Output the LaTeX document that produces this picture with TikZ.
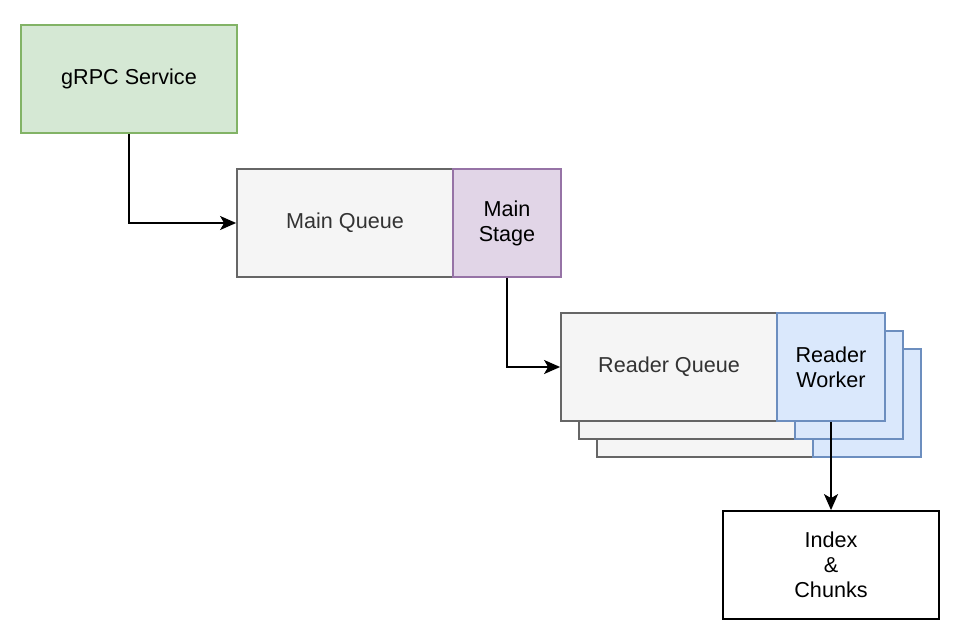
\documentclass[tikz,border=0pt]{standalone}
\usepackage{fontspec}
\setmainfont{Liberation Sans}
\usetikzlibrary{arrows.meta}
\definecolor{greenfill}{HTML}{D5E8D4}
\definecolor{greenline}{HTML}{82B366}
\definecolor{grayfill}{HTML}{F5F5F5}
\definecolor{grayline}{HTML}{666666}
\definecolor{graytext}{HTML}{333333}
\definecolor{purplefill}{HTML}{E1D5E7}
\definecolor{purpleline}{HTML}{9673A6}
\definecolor{bluefill}{HTML}{DAE8FC}
\definecolor{blueline}{HTML}{6C8EBF}
\tikzset{
  block/.style={draw, line width=0.9pt, inner sep=0pt, align=center,
    font=\fontsize{10.8}{12.5}\selectfont},
  wide/.style={block, minimum width=108pt, minimum height=54pt},
  narrow/.style={block, minimum width=54pt, minimum height=54pt},
  queuebox/.style={wide, fill=grayfill, draw=grayline, text=graytext},
  workerbox/.style={narrow, fill=bluefill, draw=blueline},
  flow/.style={line width=0.9pt, -{Stealth[length=8pt, width=7pt, inset=2pt]}}
}
\begin{document}
\begin{tikzpicture}[x=0.5pt, y=-0.5pt]
        % Canvas
        \useasboundingbox (0,0) rectangle (957,642);

        % Service and main stage
        \node[wide, fill=greenfill, draw=greenline] (grpc) at (129,79) {gRPC Service};
        \node[queuebox] (mainq) at (345,223) {Main Queue};
        \node[narrow, fill=purplefill, draw=purpleline] (stage) at (507,223) {Main\\Stage};

        % Stacked reader copies (back)
        \draw[line width=0.9pt, fill=grayfill, draw=grayline] (597,349) rectangle (813,457);
        \draw[line width=0.9pt, fill=bluefill, draw=blueline] (813,349) rectangle (921,457);
        \draw[line width=0.9pt, fill=grayfill, draw=grayline] (579,331) rectangle (795,439);
        \draw[line width=0.9pt, fill=bluefill, draw=blueline] (795,331) rectangle (903,439);

        % Reader (front)
        \node[queuebox] (readq) at (669,367) {Reader Queue};
        \node[workerbox] (worker) at (831,367) {Reader\\Worker};

        % Storage
        \node[wide, fill=white, draw=black] (index) at (831,565) {Index\\\&\\Chunks};

        % Connectors
        \draw[flow] (grpc.south) |- (mainq.west);
        \draw[flow] (stage.south) |- (readq.west);
        \draw[flow] (worker.south) -- (index.north);
    \end{tikzpicture}
\end{document}
